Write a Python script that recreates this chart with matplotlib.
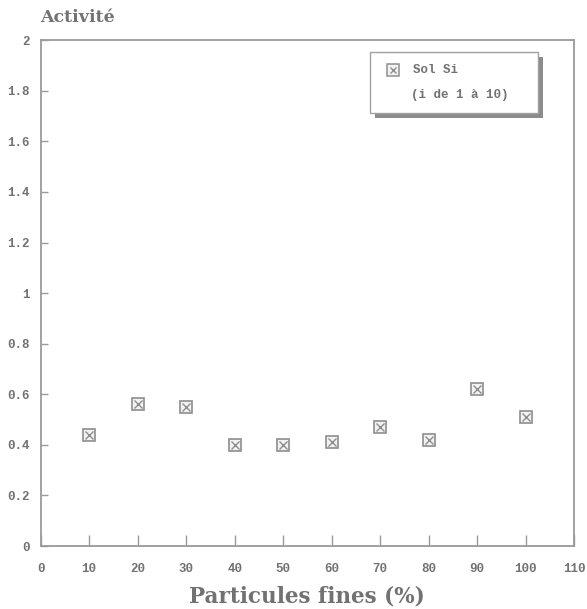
import matplotlib.pyplot as plt
from matplotlib.patches import Rectangle

fines = [10, 20, 30, 40, 50, 60, 70, 80, 90, 100]
activite = [0.44, 0.56, 0.55, 0.40, 0.40, 0.41, 0.47, 0.42, 0.62, 0.51]

x_ticks = [0, 10, 20, 30, 40, 50, 60, 70, 80, 90, 100, 110]
y_ticks = [0, 0.2, 0.4, 0.6, 0.8, 1, 1.2, 1.4, 1.6, 1.8, 2]
y_tick_labels = ["0", "0.2", "0.4", "0.6", "0.8", "1", "1.2", "1.4", "1.6", "1.8", "2"]

axis_col = "#9a9a9a"
text_col = "#727272"
mark_col = "#8e8e8e"

fig = plt.figure(figsize=(5.87, 6.09), dpi=100)
ax = fig.add_axes([0.0693, 0.1034, 0.9087, 0.8306])

ax.plot(fines, activite, linestyle="none", marker="s", markersize=9,
        markerfacecolor="#f2f2f2", markeredgecolor=mark_col, markeredgewidth=1.2)
ax.plot(fines, activite, linestyle="none", marker="x", markersize=5.5,
        markeredgecolor=mark_col, markeredgewidth=1.0)

ax.set_xlim(0, 110)
ax.set_ylim(0, 2)
ax.set_xticks(x_ticks)
ax.set_yticks(y_ticks)
ax.set_yticklabels(y_tick_labels)
ax.tick_params(direction="in", width=1, color=axis_col,
               labelcolor=text_col, labelsize=9)
ax.tick_params(axis="x", length=8, pad=12)
ax.tick_params(axis="y", length=5, pad=8)
for lab in ax.get_xticklabels() + ax.get_yticklabels():
    lab.set_fontfamily("Liberation Mono")
    lab.set_fontweight("bold")
for s in ax.spines.values():
    s.set_color(axis_col)
    s.set_linewidth(1.3)

fig.text(0.068, 0.972, "Activité", fontfamily="DejaVu Serif", fontweight="bold",
         fontsize=12.5, color=text_col, ha="left", va="center")
fig.text(0.523, 0.02, "Particules fines (%)", fontfamily="DejaVu Serif",
         fontweight="bold", fontsize=15.5, color=text_col, ha="center", va="center")

# legend box with shadow
ax.add_patch(Rectangle((0.627, 0.846), 0.315, 0.12, transform=ax.transAxes,
                       facecolor="#8c8c8c", edgecolor="none", zorder=3))
ax.add_patch(Rectangle((0.617, 0.856), 0.315, 0.12, transform=ax.transAxes,
                       facecolor="white", edgecolor="#a0a0a0", linewidth=1, zorder=4))
ax.plot([0.661], [0.941], transform=ax.transAxes, marker="s", markersize=8,
        markerfacecolor="#f2f2f2", markeredgecolor=mark_col, markeredgewidth=1.1, zorder=5)
ax.plot([0.661], [0.941], transform=ax.transAxes, marker="x", markersize=5,
        markeredgecolor=mark_col, markeredgewidth=1.0, zorder=5)
ax.text(0.698, 0.941, "Sol Si", transform=ax.transAxes, fontfamily="Liberation Mono",
        fontweight="bold", fontsize=9, color=text_col, va="center", zorder=5)
ax.text(0.695, 0.891, "(i de 1 à 10)", transform=ax.transAxes, fontfamily="Liberation Mono",
        fontweight="bold", fontsize=9, color=text_col, va="center", zorder=5)

fig.savefig("out.png", dpi=100)
